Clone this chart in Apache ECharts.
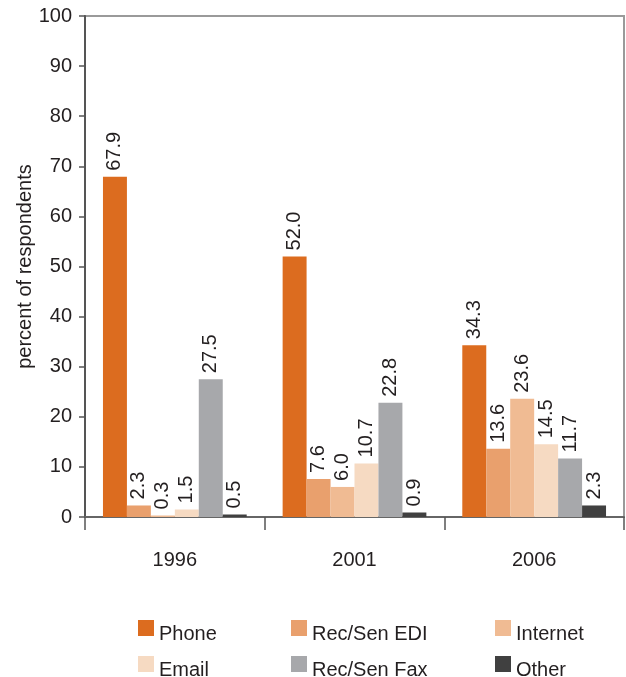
<!DOCTYPE html>
<html><head><meta charset="utf-8">
<script src="https://cdn.jsdelivr.net/npm/echarts@6/dist/echarts.min.js"></script>
<style>html,body{margin:0;padding:0;background:#fff}#c{width:626px;height:677px}</style>
</head><body><div id="c"></div>
<script>
const categories = ['1996', '2001', '2006'];
const seriesNames = ['Phone', 'Rec/Sen EDI', 'Internet', 'Email', 'Rec/Sen Fax', 'Other'];
const phone = [67.9, 52.0, 34.3];
const edi = [2.3, 7.6, 13.6];
const internet = [0.3, 6.0, 23.6];
const email = [1.5, 10.7, 14.5];
const fax = [27.5, 22.8, 11.7];
const other = [0.5, 0.9, 2.3];
const yTicks = [0, 10, 20, 30, 40, 50, 60, 70, 80, 90, 100];

const values = [phone, edi, internet, email, fax, other];
const colors = ['#DC6C1F', '#E9A06D', '#F0BB93', '#F6DAC2', '#A7A8AB', '#404040'];
const txt = '#231F20';
const font = 'Liberation Sans, Arial, sans-serif';

const chart = echarts.init(document.getElementById('c'));
const legendPos = [[138, 620], [291, 620], [495, 620], [138, 656], [291, 656], [495, 656]];
const legends = seriesNames.map((n, i) => ({
  data: [n], left: legendPos[i][0], top: legendPos[i][1], orient: 'horizontal',
  itemWidth: 16, itemHeight: 16, itemGap: 0, padding: 0, icon: 'rect',
  selectedMode: false,
  formatter: name => '{a|' + name + '}',
  textStyle: { color: txt, fontSize: 20, fontFamily: font,
    rich: { a: { color: txt, fontSize: 20, fontFamily: font, padding: [12, 0, 0, 0] } } }
}));

chart.setOption({
  animation: false,
  color: colors,
  legend: legends,
  grid: { left: 85, right: 2, top: 16, bottom: 160, show: true, borderColor: '#9a9a9a', borderWidth: 2,
    outerBoundsMode: 'none', containLabel: false },
  xAxis: {
    type: 'category', data: categories,
    axisLine: { lineStyle: { color: '#666', width: 2 } },
    axisTick: { show: true, length: 13, lineStyle: { color: '#555', width: 1.5 } },
    axisLabel: { color: txt, fontSize: 20, fontFamily: font, margin: 33 }
  },
  yAxis: {
    type: 'value', min: 0, max: 100, interval: 10,
    name: 'percent of respondents', nameLocation: 'middle', nameGap: 50, nameMoveOverlap: false,
    nameTextStyle: { color: txt, fontSize: 20, fontFamily: font },
    axisLine: { show: true, lineStyle: { color: '#555', width: 2 } },
    axisTick: { show: true, length: 6, lineStyle: { color: '#555', width: 1.5 } },
    axisLabel: { color: txt, fontSize: 20, fontFamily: font, margin: 13,
      formatter: v => yTicks.includes(v) ? String(v) : '' },
    splitLine: { show: false }
  },
  series: seriesNames.map((n, i) => ({
    name: n, type: 'bar', data: values[i],
    barGap: '0%', barCategoryGap: '20%',
    itemStyle: { color: colors[i] },
    label: {
      show: true, position: 'top', rotate: 90, align: 'left', verticalAlign: 'middle',
      distance: 6, color: txt, fontSize: 20, fontFamily: font,
      formatter: p => p.value.toFixed(1)
    }
  }))
});
</script></body></html>
